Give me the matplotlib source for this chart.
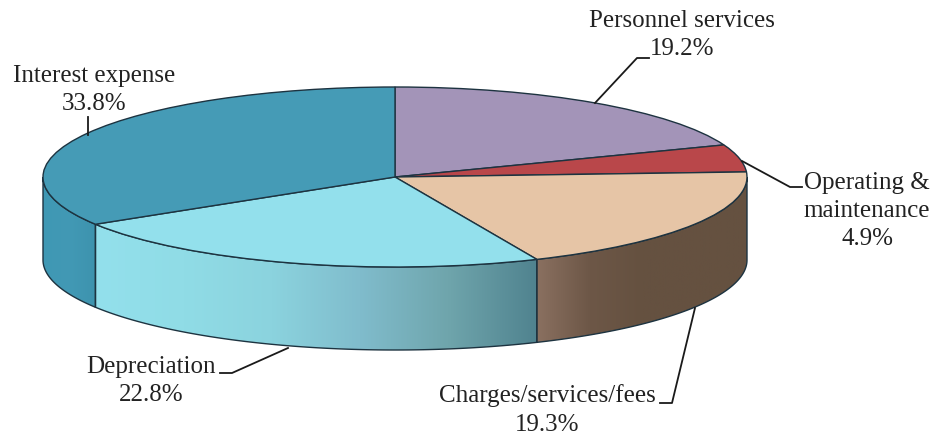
import numpy as np
import matplotlib
matplotlib.use("Agg")
import matplotlib.pyplot as plt
from matplotlib.colors import LinearSegmentedColormap
from matplotlib.patches import Polygon
from matplotlib.transforms import Affine2D

# ----------------------
# Data
# ----------------------
categories = ["Personnel services", "Operating &\nmaintenance", "Charges/services/fees",
              "Depreciation", "Interest expense"]
shares = [19.2, 4.9, 19.3, 22.8, 33.8]
top_colors = ["#a394b8", "#b9474a", "#e6c5a6", "#93e0ec", "#459bb6"]
wall_colors = [
    ["#a394b8", "#a394b8"],
    ["#b9474a", "#b9474a"],
    ["#8a7060", "#6d5747", "#655140", "#655140", "#655140"],
    ["#93e0ec", "#90dce6", "#8bd3de", "#80bccc", "#6fa5ac", "#50838f"],
    ["#3f98b4", "#4299b5", "#3d93ae"],
]

# ----------------------
# Layout (pixels of the 934x437 picture)
# ----------------------
W, H = 934, 437
cx, cy = 395, 177
rx, ry = 352, 90
depth = 83 / ry

fig = plt.figure(figsize=(W / 100, H / 100), dpi=100, facecolor="white")
ax = fig.add_axes([0, 0, 1, 1])
plt.rcParams["font.family"] = ["Liberation Serif", "DejaVu Serif"]

px = Affine2D().scale(1 / W, -1 / H).translate(0, 1) + fig.transFigure

# ----------------------
# Pie top
# ----------------------
edge = "#1d3340"
ax.pie(shares, startangle=90, counterclock=False, colors=top_colors, radius=1,
       wedgeprops={"edgecolor": edge, "linewidth": 1.0, "zorder": 5})

# ----------------------
# Side wall, one piece per slice, only the front half shows
# ----------------------
ends = 90 - np.cumsum(shares) * 3.6
starts = np.concatenate([[90], ends[:-1]])

for start, end, stops in zip(starts, ends, wall_colors):
    # angles run clockwise, the front half is -180..0
    a1 = min(start, 0)
    a0 = max(end, -180)
    if a0 >= a1:
        continue
    t = np.radians(np.linspace(a1, a0, 100))
    x = np.cos(t)
    y = np.sin(t)
    outline = np.column_stack([np.r_[x, x[::-1]], np.r_[y, y[::-1] - depth]])
    x_left, x_right = x.min(), x.max()
    y_low, y_high = outline[:, 1].min(), outline[:, 1].max()
    cmap = LinearSegmentedColormap.from_list("wall", stops)
    img = ax.imshow(np.linspace(0, 1, 256)[None, :], cmap=cmap, aspect="auto",
                    extent=(x_left, x_right, y_low, y_high), zorder=2)
    poly = Polygon(outline, closed=True, facecolor="none", edgecolor=edge,
                   linewidth=1.0, zorder=3)
    ax.add_patch(poly)
    img.set_clip_path(poly)

ax.set_aspect("auto")
ax.set_xlim(-cx / rx, (W - cx) / rx)
ax.set_ylim(-(H - cy) / ry, cy / ry)
ax.axis("off")

# ----------------------
# Labels and leader lines
# ----------------------
label_pos = [(682, 35), (867, 211), (547, 410), (151, 381), (94, 90)]
leaders = [
    [(595, 103), (637, 58), (649, 58)],
    [(742, 161), (790, 187), (802, 187)],
    [(695, 308), (672, 403), (660, 403)],
    [(288, 348), (232, 373), (220, 373)],
    [(88, 135), (88, 117)],
]

for name, share, pos, line in zip(categories, shares, label_pos, leaders):
    ax.text(pos[0], pos[1], f"{name}\n{share}%", transform=px, ha="center", va="center",
            fontsize=18, color="#222222", linespacing=1.38, zorder=10)
    xs, ys = zip(*line)
    ax.plot(xs, ys, transform=px, color="#1a1a1a", linewidth=1.3, zorder=6, clip_on=False)

fig.savefig("out.png", dpi=100)
